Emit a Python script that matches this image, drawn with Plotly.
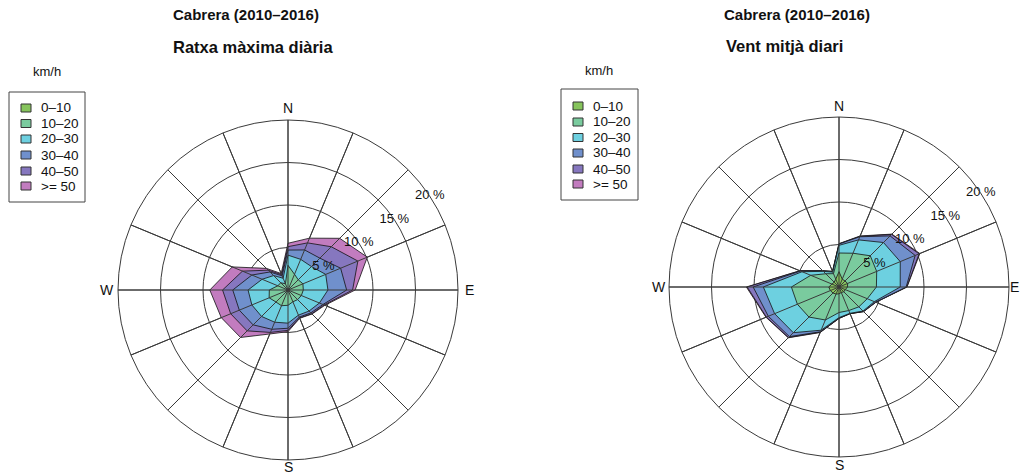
import plotly.graph_objects as go
import numpy as np

W, H = 1021, 475

directions = [0, 22.5, 45, 67.5, 90, 112.5, 135, 157.5,
              180, 202.5, 225, 247.5, 270, 292.5, 315, 337.5]
cardinal_labels = ["N", "E", "S", "W"]
speed_bins = ["0\u201310", "10\u201320", "20\u201330", "30\u201340", "40\u201350", ">= 50"]
bin_colors = ["#86C45C", "#7ACB9E", "#6DD0E0", "#7090CC", "#8677BF", "#C27CBF"]

# Ratxa màxima diària: % frequency per speed bin (N, NNE, ... NNW)
ratxa_0_10  = [0.1, 0.1, 0.2, 0.2, 0.2, 0.1, 0.1, 0.1, 0.1, 0.1, 0.2, 0.2, 0.2, 0.1, 0.1, 0.05]
ratxa_10_20 = [2.8, 1.9, 1.5, 1.7, 1.6, 1.6, 1.5, 1.4, 1.7, 1.9, 1.8, 2.2, 2.0, 1.2, 1.1, 0.75]
ratxa_20_30 = [1.2, 1.9, 2.2, 2.9, 2.9, 2.3, 1.9, 1.7, 2.1, 2.1, 2.4, 2.2, 2.5, 2.0, 1.2, 0.7]
ratxa_30_40 = [0.6, 1.2, 1.4, 1.9, 2.2, 0.45, 0.3, 0.25, 0.6, 0.9, 1.4, 1.6, 1.8, 1.3, 0.6, 0.3]
ratxa_40_50 = [0.4, 0.9, 1.9, 2.2, 0.7, 0.15, 0.15, 0.1, 0.25, 0.4, 1.0, 1.1, 1.2, 1.2, 0.3, 0.15]
ratxa_50    = [0.4, 0.6, 1.4, 1.2, 0.3, 0.1, 0.05, 0.05, 0.15, 0.2, 1.1, 1.2, 1.5, 1.3, 0.3, 0.15]

# Vent mitjà diari
vent_0_10  = [1.8, 1.0, 1.0, 1.1, 1.0, 0.8, 0.8, 0.7, 0.8, 0.9, 1.0, 1.1, 1.2, 0.9, 0.8, 1.0]
vent_10_20 = [2.2, 3.3, 4.2, 3.7, 3.4, 2.8, 2.5, 2.3, 2.2, 3.3, 4.0, 4.2, 4.4, 2.7, 1.4, 0.7]
vent_20_30 = [0.9, 1.7, 2.2, 3.0, 2.8, 0.9, 0.7, 0.35, 0.6, 1.3, 2.6, 2.9, 3.3, 1.1, 0.4, 0.2]
vent_30_40 = [0.15, 0.4, 1.1, 1.9, 0.7, 0.15, 0.07, 0.03, 0.07, 0.2, 0.65, 0.8, 1.2, 0.2, 0.07, 0.06]
vent_40_50 = [0.03, 0.05, 0.25, 0.5, 0.07, 0.03, 0.02, 0.01, 0.02, 0.05, 0.15, 0.25, 0.7, 0.07, 0.02, 0.02]
vent_50    = [0.02, 0.05, 0.05, 0.1, 0.03, 0.02, 0.01, 0.01, 0.01, 0.05, 0.05, 0.05, 0.1, 0.03, 0.01, 0.02]

pct_ticks = [5, 10, 15, 20]
pct_labels = ["5 %", "10 %", "15 %", "20 %"]
label_angle = 56.5

FONT = "Liberation Sans, Arial, sans-serif"
GRID = "#3a3a3a"

fig = go.Figure()


def add_rose(bins, subplot):
    cum = np.cumsum(np.array(bins), axis=0)
    theta = directions + [directions[0]]
    for i in range(len(bins) - 1, -1, -1):
        r = list(cum[i]) + [cum[i][0]]
        fig.add_trace(go.Scatterpolar(
            r=r, theta=theta, mode="lines", fill="toself",
            fillcolor=bin_colors[i], line=dict(color="#111111", width=0.8),
            subplot=subplot, showlegend=False, hoverinfo="skip"))
    # spokes on top
    sr, st = [], []
    for d in directions:
        sr += [0, 20, None]
        st += [d, d, None]
    fig.add_trace(go.Scatterpolar(
        r=sr, theta=st, mode="lines", line=dict(color=GRID, width=1),
        subplot=subplot, showlegend=False, hoverinfo="skip"))
    fig.add_trace(go.Scatterpolar(
        r=pct_ticks, theta=[label_angle] * len(pct_ticks), mode="text",
        text=pct_labels, textfont=dict(family=FONT, size=13, color="#111"),
        textposition="middle center",
        subplot=subplot, showlegend=False, hoverinfo="skip"))


add_rose([ratxa_0_10, ratxa_10_20, ratxa_20_30, ratxa_30_40, ratxa_40_50, ratxa_50], "polar")
add_rose([vent_0_10, vent_10_20, vent_20_30, vent_30_40, vent_40_50, vent_50], "polar2")


def polar_layout(cx, cy, rad):
    return dict(
        domain=dict(x=[(cx - rad) / W, (cx + rad) / W],
                    y=[(H - cy - rad) / H, (H - cy + rad) / H]),
        bgcolor="white",
        radialaxis=dict(range=[0, 20], tickvals=pct_ticks, showticklabels=False,
                        ticks="", showline=False, gridcolor=GRID, gridwidth=1),
        angularaxis=dict(direction="clockwise", rotation=90, tickmode="array",
                         tickvals=directions, showticklabels=False, ticks="",
                         showline=True, linecolor=GRID, linewidth=1,
                         gridcolor=GRID, gridwidth=1),
    )


shapes = []
annotations = []


def px(x, y):
    return x / W, 1 - y / H


def add_text(x, y, text, size, bold=False, xanchor="center"):
    xx, yy = px(x, y)
    annotations.append(dict(x=xx, y=yy, xref="paper", yref="paper",
                            text=f"<b>{text}</b>" if bold else text,
                            showarrow=False, xanchor=xanchor, yanchor="middle",
                            font=dict(family=FONT, size=size, color="#111")))


def add_rect(x0, y0, x1, y1, fill, lw=1, lc="#333"):
    a0, b0 = px(x0, y0)
    a1, b1 = px(x1, y1)
    shapes.append(dict(type="rect", xref="paper", yref="paper",
                       x0=a0, y0=b1, x1=a1, y1=b0, fillcolor=fill,
                       line=dict(color=lc, width=lw)))


def add_legend(bx0, by0, bx1, by1, sq_x, txt_x, ys, kmx, kmy):
    add_text(kmx, kmy, "km/h", 13)
    add_rect(bx0, by0, bx1, by1, "rgba(0,0,0,0)", 1, "#444")
    for lab, col, yy in zip(speed_bins, bin_colors, ys):
        add_rect(sq_x, yy - 4, sq_x + 10, yy + 4, col, 1, "#333")
        add_text(txt_x, yy, lab, 13.5, xanchor="left")


def add_cardinals(positions):
    for lab, (x, y) in zip(cardinal_labels, positions):
        add_text(x, y, lab, 14)


# Left panel
add_text(246, 15, "Cabrera (2010\u20132016)", 15, bold=True)
add_text(253, 47, "Ratxa màxima diària", 16.5, bold=True)
add_legend(9, 92, 85, 202, 21, 39, [108, 123.5, 139, 155, 171, 186], 47, 71)
add_cardinals([(288, 108), (469, 290), (288, 467), (107, 290)])

# Right panel
add_text(797, 14, "Cabrera (2010\u20132016)", 15, bold=True)
add_text(784, 46, "Vent mitjà diari", 16.5, bold=True)
add_legend(561, 89, 638, 200, 573, 591, [106, 122, 137.5, 153, 169, 184], 599, 70)
add_cardinals([(839, 106), (1014, 287), (839, 465), (659, 287)])

fig.update_layout(
    width=W, height=H,
    margin=dict(l=0, r=0, t=0, b=0),
    paper_bgcolor="white",
    plot_bgcolor="white",
    showlegend=False,
    polar=polar_layout(288, 290, 170),
    polar2=polar_layout(839, 287, 170),
    shapes=shapes,
    annotations=annotations,
    font=dict(family=FONT),
)

fig.write_html("out.html", config={"displayModeBar": False},
               post_script="document.body.style.margin='0';document.body.style.overflow='hidden';")
